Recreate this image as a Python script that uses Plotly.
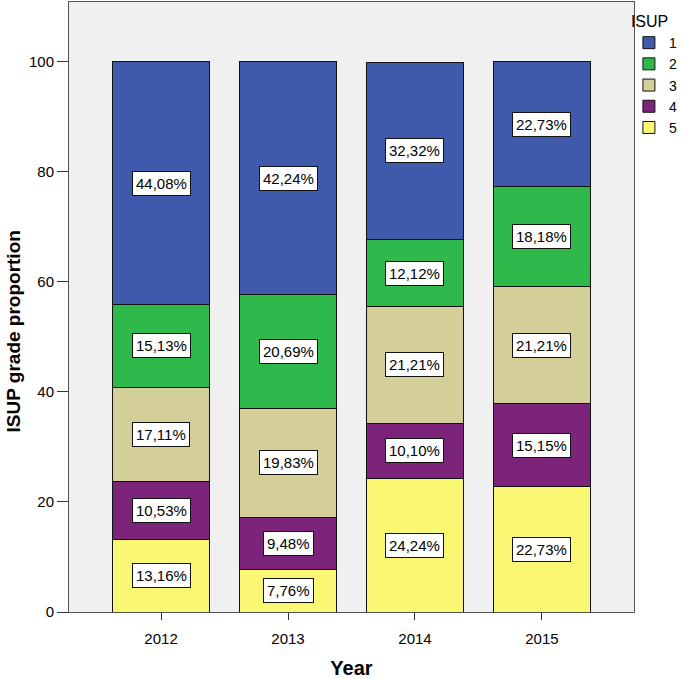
import plotly.graph_objects as go

years = ["2012", "2013", "2014", "2015"]
grades = ["1", "2", "3", "4", "5"]
# percentage of each ISUP grade per year
values = {
    "1": [44.08, 42.24, 32.32, 22.73],
    "2": [15.13, 20.69, 12.12, 18.18],
    "3": [17.11, 19.83, 21.21, 21.21],
    "4": [10.53, 9.48, 10.10, 15.15],
    "5": [13.16, 7.76, 24.24, 22.73],
}
colors = {
    "1": "#3F59AB",
    "2": "#2EB94A",
    "3": "#D4CF98",
    "4": "#7B2479",
    "5": "#FAF872",
}

FONT = "Liberation Sans, Arial"
xs = list(range(len(years)))
fig = go.Figure()
base = [0.0] * len(years)
annotations = []
for g in ["5", "4", "3", "2", "1"]:
    fig.add_trace(go.Bar(
        x=xs, y=values[g], name=g, width=0.764,
        marker=dict(color=colors[g], line=dict(color="#111111", width=1)),
    ))
    for i, v in enumerate(values[g]):
        annotations.append(dict(
            x=xs[i], y=base[i] + v / 2, xref="x", yref="y",
            text=f"{v:.2f}%".replace(".", ","), showarrow=False,
            font=dict(family=FONT, size=15, color="black"),
            bgcolor="white", bordercolor="#111111", borderwidth=1, borderpad=3,
        ))
        base[i] += v

# y axis title sits a bit below the plot centre, as in the original
annotations.append(dict(
    text="<b>ISUP grade proportion</b>", textangle=-90, showarrow=False,
    xref="paper", yref="paper", x=-0.099, y=0.46,
    xanchor="center", yanchor="middle",
    font=dict(family=FONT, size=19, color="black"),
))

fig.update_layout(
    barmode="stack",
    width=685, height=679,
    margin=dict(l=69, r=51, t=2, b=67),
    paper_bgcolor="white",
    plot_bgcolor="#F0F0F0",
    font=dict(family=FONT, size=15, color="black"),
    annotations=annotations,
    showlegend=True,
    legend=dict(
        title=dict(text="ISUP", font=dict(size=16), side="top"),
        traceorder="reversed", x=0.991, y=0.993, xanchor="left", yanchor="top",
        font=dict(size=14), itemwidth=30, tracegroupgap=0,
        bgcolor="rgba(0,0,0,0)",
    ),
)
fig.update_xaxes(
    tickvals=xs, ticktext=years, range=[-0.725, 3.725],
    showline=True, linecolor="#555555", linewidth=1, mirror=True,
    ticks="outside", ticklen=7, tickcolor="#333333", ticklabelstandoff=6,
    showgrid=False, zeroline=False, automargin=False,
    title=dict(text="<b>Year</b>", font=dict(size=20), standoff=19),
)
fig.update_yaxes(
    range=[0, 110.9], tickvals=[0, 20, 40, 60, 80, 100],
    showline=True, linecolor="#555555", linewidth=1, mirror=True,
    ticks="outside", ticklen=11, tickcolor="#333333",
    showgrid=False, zeroline=False, automargin=False,
)

fig.write_html("out.html", config={"displayModeBar": False},
               post_script="document.body.style.margin='0';")
